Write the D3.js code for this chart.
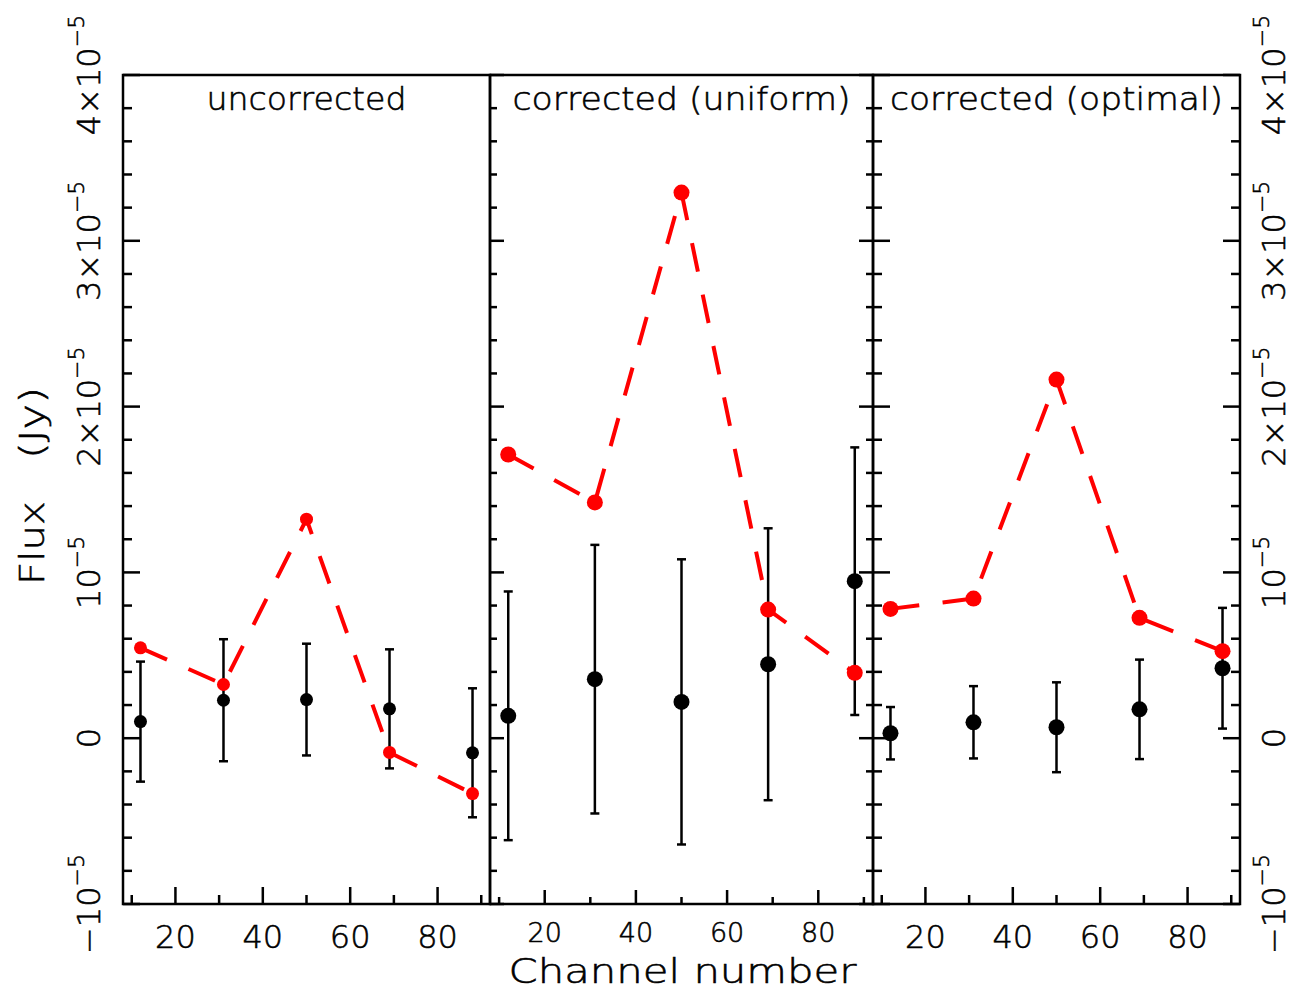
<!DOCTYPE html>
<html>
<head>
<meta charset="utf-8">
<script src="https://cdn.jsdelivr.net/npm/d3@7"></script>
<style>
  html, body { margin: 0; padding: 0; background: #fff; }
  svg { display: block; }
  text { font-family: "DejaVu Sans", "Liberation Sans", sans-serif; font-weight: 200; fill: #000; stroke: #000; stroke-width: 0.55px; }
</style>
</head>
<body>
<svg id="chart" width="1304" height="998"></svg>
<script>
// ---------------- data ----------------
const channels = [12, 31, 50, 69, 88];
const panelTitles = ["uncorrected", "corrected (uniform)", "corrected (optimal)"];

// red dashed series (model flux, Jy)
const redUncorrected = [0.545e-5, 0.324e-5, 1.321e-5, -0.086e-5, -0.334e-5];
const redUniform     = [1.711e-5, 1.422e-5, 3.291e-5, 0.776e-5, 0.394e-5];
const redOptimal     = [0.780e-5, 0.842e-5, 2.163e-5, 0.726e-5, 0.525e-5];

// black points with error bars (measured flux, Jy)
const blackUncorrected = [0.100e-5, 0.229e-5, 0.233e-5, 0.177e-5, -0.088e-5];
const errUncorrected   = [0.362e-5, 0.368e-5, 0.337e-5, 0.359e-5, 0.389e-5];
const blackUniform     = [0.135e-5, 0.356e-5, 0.219e-5, 0.446e-5, 0.947e-5];
const errUniform       = [0.750e-5, 0.810e-5, 0.860e-5, 0.820e-5, 0.807e-5];
const blackOptimal     = [0.030e-5, 0.096e-5, 0.066e-5, 0.174e-5, 0.422e-5];
const errOptimal       = [0.158e-5, 0.218e-5, 0.271e-5, 0.300e-5, 0.364e-5];

const xTicks = [20, 40, 60, 80];
const xMinorTicks = [10, 30, 50, 70, 90];
const xTickLabels = ["20", "40", "60", "80"];
const yTicks = [-1e-5, 0, 1e-5, 2e-5, 3e-5, 4e-5];
const yTickMantissa = ["\u221210", "0", "10", "2\u00d710", "3\u00d710", "4\u00d710"];
const yTickExponent = ["\u22125", "", "\u22125", "\u22125", "\u22125", "\u22125"];
const xDomain = [8, 92];
const yDomain = [-1e-5, 4e-5];
const xAxisTitle = "Channel number";
const yAxisTitleWords = ["Flux", "(Jy)"];

// ---------------- layout ----------------
const svg = d3.select("#chart");
const plotTop = 75, plotBottom = 904;
const panels = [
  { x0: 123, x1: 490, red: redUncorrected, black: blackUncorrected, err: errUncorrected,
    r: 6.5, maj: 17, min: 9, leftTicks: true, rightTicks: false, tickFont: 32, tickBase: 948, titleLen: 200 },
  { x0: 490, x1: 873, red: redUniform, black: blackUniform, err: errUniform,
    r: 8, maj: 14, min: 7, leftTicks: true, rightTicks: true, tickFont: 27, tickBase: 942, titleLen: 338 },
  { x0: 873, x1: 1240, red: redOptimal, black: blackOptimal, err: errOptimal,
    r: 8, maj: 17, min: 9, leftTicks: true, rightTicks: true, tickFont: 32, tickBase: 948, titleLen: 333 }
];

const y = d3.scaleLinear().domain(yDomain).range([plotBottom, plotTop]);
const yMinor = d3.range(-10, 41, 2).map(v => v * 1e-6).filter(v => !yTicks.some(t => Math.abs(t - v) < 1e-12));

panels.forEach((p, i) => {
  const x = d3.scaleLinear().domain(xDomain).range([p.x0, p.x1]);
  const g = svg.append("g");

  g.append("rect").attr("x", p.x0).attr("y", plotTop)
    .attr("width", p.x1 - p.x0).attr("height", plotBottom - plotTop)
    .attr("fill", "none").attr("stroke", "#000").attr("stroke-width", 2.5);

  const tickG = g.append("g").attr("stroke", "#000").attr("stroke-width", 2.5);
  xTicks.forEach(t => tickG.append("line").attr("x1", x(t)).attr("x2", x(t)).attr("y1", plotBottom).attr("y2", plotBottom - p.maj));
  xMinorTicks.forEach(t => tickG.append("line").attr("x1", x(t)).attr("x2", x(t)).attr("y1", plotBottom).attr("y2", plotBottom - p.min));
  if (p.leftTicks) {
    yTicks.forEach(t => tickG.append("line").attr("x1", p.x0).attr("x2", p.x0 + p.maj).attr("y1", y(t)).attr("y2", y(t)));
    yMinor.forEach(t => tickG.append("line").attr("x1", p.x0).attr("x2", p.x0 + p.min).attr("y1", y(t)).attr("y2", y(t)));
  }
  if (p.rightTicks) {
    yTicks.forEach(t => tickG.append("line").attr("x1", p.x1).attr("x2", p.x1 - p.maj).attr("y1", y(t)).attr("y2", y(t)));
    yMinor.forEach(t => tickG.append("line").attr("x1", p.x1).attr("x2", p.x1 - p.min).attr("y1", y(t)).attr("y2", y(t)));
  }

  xTicks.forEach((t, k) => {
    g.append("text").attr("x", x(t)).attr("y", p.tickBase)
      .attr("text-anchor", "middle").attr("font-size", p.tickFont)
      .text(xTickLabels[k]);
  });

  g.append("text").attr("x", (p.x0 + p.x1) / 2).attr("y", 110)
    .attr("text-anchor", "middle").attr("font-size", 32)
    .attr("textLength", p.titleLen).attr("lengthAdjust", "spacingAndGlyphs")
    .text(panelTitles[i]);

  const eb = g.append("g").attr("stroke", "#000").attr("stroke-width", 2.5);
  channels.forEach((c, k) => {
    const hi = y(p.black[k] + p.err[k]), lo = y(p.black[k] - p.err[k]);
    eb.append("line").attr("x1", x(c)).attr("x2", x(c)).attr("y1", hi).attr("y2", lo);
    eb.append("line").attr("x1", x(c) - 4.5).attr("x2", x(c) + 4.5).attr("y1", hi).attr("y2", hi);
    eb.append("line").attr("x1", x(c) - 4.5).attr("x2", x(c) + 4.5).attr("y1", lo).attr("y2", lo);
  });
  g.selectAll("circle.black").data(channels).enter().append("circle")
    .attr("cx", c => x(c)).attr("cy", (c, k) => y(p.black[k])).attr("r", p.r).attr("fill", "#000");

  const line = d3.line().x(c => x(c)).y((c, k) => y(p.red[k]));
  g.append("path").attr("d", line(channels)).attr("fill", "none")
    .attr("stroke", "#ff0000").attr("stroke-width", 4).attr("stroke-dasharray", "29,23.5");
  g.selectAll("circle.red").data(channels).enter().append("circle")
    .attr("cx", c => x(c)).attr("cy", (c, k) => y(p.red[k])).attr("r", p.r).attr("fill", "#ff0000");
});

function yLabel(xb) {
  yTicks.forEach((t, k) => {
    const txt = svg.append("text")
      .attr("transform", `translate(${xb},${y(t)}) rotate(-90)`)
      .attr("text-anchor", "middle").attr("font-size", 32);
    txt.append("tspan").text(yTickMantissa[k]);
    if (yTickExponent[k]) {
      txt.append("tspan").attr("dy", -16).attr("font-size", 22).text(yTickExponent[k]);
    }
  });
}
yLabel(100);
yLabel(1285);

// y axis title, centred on the plot height
const yTitle = svg.append("text").attr("transform", `translate(44,0) rotate(-90)`)
  .attr("font-size", 34).attr("text-anchor", "middle");
yTitle.append("tspan").attr("x", -543).attr("textLength", 84).attr("lengthAdjust", "spacingAndGlyphs").text(yAxisTitleWords[0]);
yTitle.append("tspan").attr("x", -423).attr("textLength", 72).attr("lengthAdjust", "spacingAndGlyphs").text(yAxisTitleWords[1]);

svg.append("text").attr("x", 682.5).attr("y", 983)
  .attr("text-anchor", "middle").attr("font-size", 34)
  .attr("textLength", 348).attr("lengthAdjust", "spacingAndGlyphs")
  .text(xAxisTitle);
</script>
</body>
</html>
